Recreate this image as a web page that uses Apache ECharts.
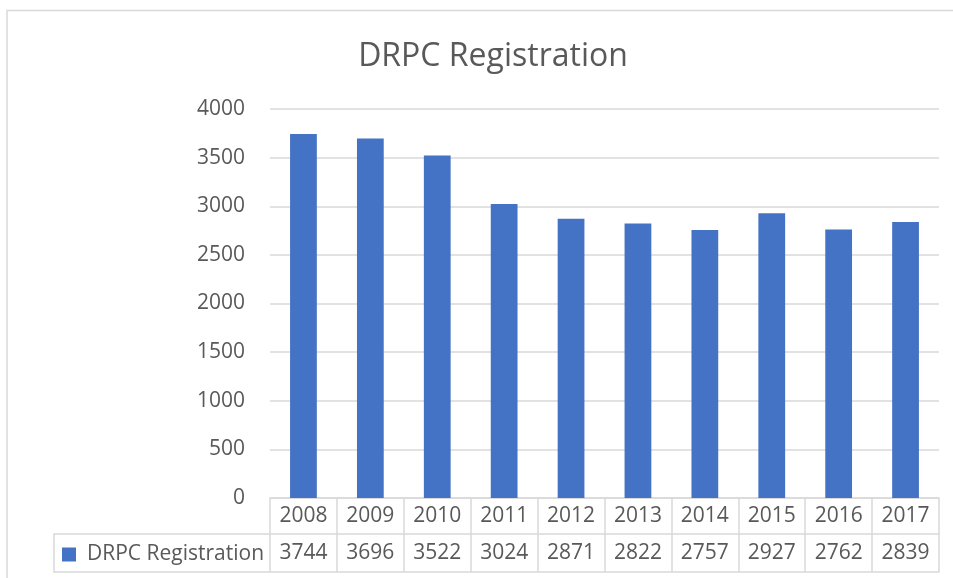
<!DOCTYPE html>
<html>
<head>
<meta charset="utf-8">
<script src="https://cdn.jsdelivr.net/npm/echarts@6/dist/echarts.min.js"></script>
<style>
html,body{margin:0;padding:0;background:#fff;}
#chart{width:953px;height:578px;}
</style>
</head>
<body>
<div id="chart"></div>
<script>
const chartTitle = "DRPC Registration";
const seriesName = "DRPC Registration";
const years = ["2008","2009","2010","2011","2012","2013","2014","2015","2016","2017"];
const registrations = [3744, 3696, 3522, 3024, 2871, 2822, 2757, 2927, 2762, 2839];
const yTicks = {min: 0, max: 4000, interval: 500};

const FONT = "'Open Sans', 'DejaVu Sans', sans-serif";
const TXT = "#595959";
const LINE = "#d9d9d9";

const chart = echarts.init(document.getElementById('chart'), null, {renderer: 'canvas'});

const option = {
  backgroundColor: '#ffffff',
  animation: false,
  textStyle: {fontFamily: FONT},
  grid: {left: 270, right: 14, top: 109, bottom: 80, containLabel: false},
  legend: {
    show: true,
    left: 57, top: 539,
    icon: 'rect', itemWidth: 14, itemHeight: 14,
    textStyle: {fontFamily: FONT, fontSize: 21, color: TXT, padding: [0,0,0,6]},
    data: [seriesName]
  },
  xAxis: [
    {
      type: 'category', data: years, position: 'bottom', offset: 0,
      axisLine: {show: true, lineStyle: {color: LINE, width: 1.5}},
      axisTick: {show: true, length: 74, lineStyle: {color: LINE, width: 1.5}},
      axisLabel: {fontFamily: FONT, fontSize: 21, color: TXT, margin: 18, verticalAlign: 'middle'},
      splitLine: {show: false}
    },
    {
      type: 'category', data: years, position: 'bottom', offset: 36,
      axisLine: {show: true, lineStyle: {color: LINE, width: 1.5}},
      axisTick: {show: false},
      axisLabel: {fontFamily: FONT, fontSize: 21, color: TXT, margin: 19, verticalAlign: 'middle',
        formatter: function (v, i) { return String(registrations[i]); }},
      splitLine: {show: false}
    },
    {
      type: 'category', data: years, position: 'bottom', offset: 74,
      axisLine: {show: true, lineStyle: {color: LINE, width: 1.5}},
      axisTick: {show: false},
      axisLabel: {show: false},
      splitLine: {show: false}
    }
  ],
  yAxis: {
    type: 'value', min: yTicks.min, max: yTicks.max, interval: yTicks.interval,
    axisLine: {show: false}, axisTick: {show: false},
    axisLabel: {fontFamily: FONT, fontSize: 21, color: TXT, margin: 25,
      formatter: function (v) { return String(v); }},
    splitLine: {show: true, lineStyle: {color: LINE, width: 1.5}}
  },
  series: [{
    name: seriesName,
    type: 'bar',
    xAxisIndex: 0,
    data: registrations,
    barCategoryGap: '60%',
    itemStyle: {color: '#4472C4'}
  }],
  graphic: [
    {type: 'rect', silent: true, z: -1,
      shape: {x: 7, y: 10.5, width: 1000, height: 600},
      style: {fill: 'none', stroke: LINE, lineWidth: 1.5}},
    {type: 'text', silent: true,
      x: 493, y: 57,
      style: {text: chartTitle, font: "32px 'Open Sans', sans-serif", fill: TXT,
        textAlign: 'center', textVerticalAlign: 'middle'}},
    {type: 'polyline', silent: true,
      shape: {points: [[270, 534], [54, 534], [54, 572], [270, 572]]},
      style: {fill: 'none', stroke: LINE, lineWidth: 1.5}}
  ]
};
chart.setOption(option);
</script>
</body>
</html>
